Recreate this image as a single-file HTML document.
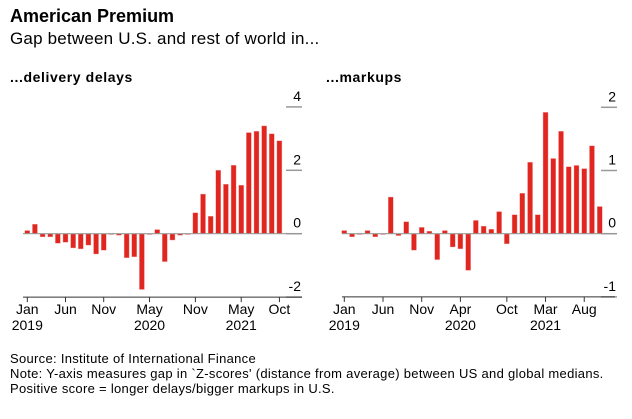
<!DOCTYPE html>
<html><head><meta charset="utf-8"><style>
body{margin:0;background:#fff;font-family:"Liberation Sans",sans-serif;color:#000}
svg text{font-family:"Liberation Sans",sans-serif}
</style></head><body>
<svg width="632" height="414">
<text x="10" y="22" font-size="18" font-weight="bold">American Premium</text>
<text x="10" y="44" font-size="17" letter-spacing="0.2">Gap between U.S. and rest of world in...</text>
<text x="10" y="82" font-size="14" font-weight="bold" letter-spacing="0.6">...delivery delays</text>
<text x="326" y="82" font-size="14" font-weight="bold" letter-spacing="0.6">...markups</text>
<g id="left"></g><g id="right"></g>
<text x="10" y="363" font-size="13" letter-spacing="0.3">Source: Institute of International Finance</text>
<text x="10" y="378" font-size="13" letter-spacing="0.3">Note: Y-axis measures gap in `Z-scores' (distance from average) between US and global medians.</text>
<text x="10" y="393" font-size="13" letter-spacing="0.3">Positive score = longer delays/bigger markups in U.S.</text>
</svg>
<script>
const delays=[0.1,0.3,-0.1,-0.1,-0.3,-0.27,-0.45,-0.48,-0.36,-0.64,-0.52,-0.02,-0.05,-0.76,-0.73,-1.76,-0.02,0.13,-0.88,-0.2,-0.05,-0.02,0.66,1.25,0.55,2.0,1.56,2.16,1.53,3.19,3.23,3.4,3.15,2.93];
const markups=[0.05,-0.05,-0.01,0.05,-0.05,-0.01,0.58,-0.03,0.19,-0.26,0.1,0.04,-0.41,0.05,-0.21,-0.24,-0.58,0.21,0.12,0.07,0.35,-0.16,0.3,0.64,1.13,0.3,1.92,1.19,1.62,1.06,1.08,1.03,1.39,0.43];
const leftTicks=[4,2,0,-2];
const rightTicks=[2,1,0,-1];
const leftX=[[0,"Jan","2019"],[5,"Jun",""],[10,"Nov",""],[16,"May","2020"],[22,"Nov",""],[28,"May","2021"],[33,"Oct",""]];
const rightX=[[0,"Jan","2019"],[5,"Jun",""],[10,"Nov",""],[15,"Apr","2020"],[21,"Oct",""],[26,"Mar","2021"],[31,"Aug",""]];
const NS="http://www.w3.org/2000/svg";
function el(p,t,a){const e=document.createElementNS(NS,t);for(const k in a)e.setAttribute(k,a[k]);p.appendChild(e);return e;}
function panel(g,vals,ticks,xt,x0,step,y0,unit,axL,axR,lblX,pfx){
  const X=i=>x0+i*step, Y=v=>y0-v*unit;
  ticks.forEach(t=>{
    const l=el(g,"line",{x1:lblX-8,x2:lblX+8,y1:Y(t),y2:Y(t),stroke:"#999","stroke-width":1.5});
    
    
    const tx=el(g,"text",{x:lblX+7,y:Y(t)-6,"font-size":14,"text-anchor":"end"});tx.textContent=t;
    
    
  });
  vals.forEach((v,i)=>{
    const r=el(g,"rect",{x:X(i)-2.5,width:5,y:Math.min(Y(v),y0),height:Math.max(Math.abs(v*unit),0.8),fill:"#e0261f",stroke:"#f2a0a0","stroke-width":0.4});
    
    
  });
  const z=el(g,"line",{x1:axL,x2:lblX+8,y1:y0,y2:y0,stroke:"#999","stroke-width":1.2});
  
  
  const ab=Y(ticks[3]);
  const a=el(g,"line",{x1:axL,x2:axR,y1:ab,y2:ab,stroke:"#333","stroke-width":1});
  
  
  xt.forEach(([i,m,yr])=>{
    const t=el(g,"line",{x1:X(i),x2:X(i),y1:ab,y2:ab+5,stroke:"#333"});
    
    
    const tx=el(g,"text",{x:X(i),y:ab+17,"font-size":14,"text-anchor":"middle"});tx.textContent=m;
    
    
    if(yr){const ty=el(g,"text",{x:X(i),y:ab+33,"font-size":14,"text-anchor":"middle"});ty.textContent=yr;
    
    }
  });
}
panel(document.getElementById("left"),delays,leftTicks,leftX,27.3,7.64,233.7,31.7,23,302,294,"delays");
panel(document.getElementById("right"),markups,rightTicks,rightX,344.3,7.74,233.7,63.2,342,615,609,"markups");
</script>
</body></html>
